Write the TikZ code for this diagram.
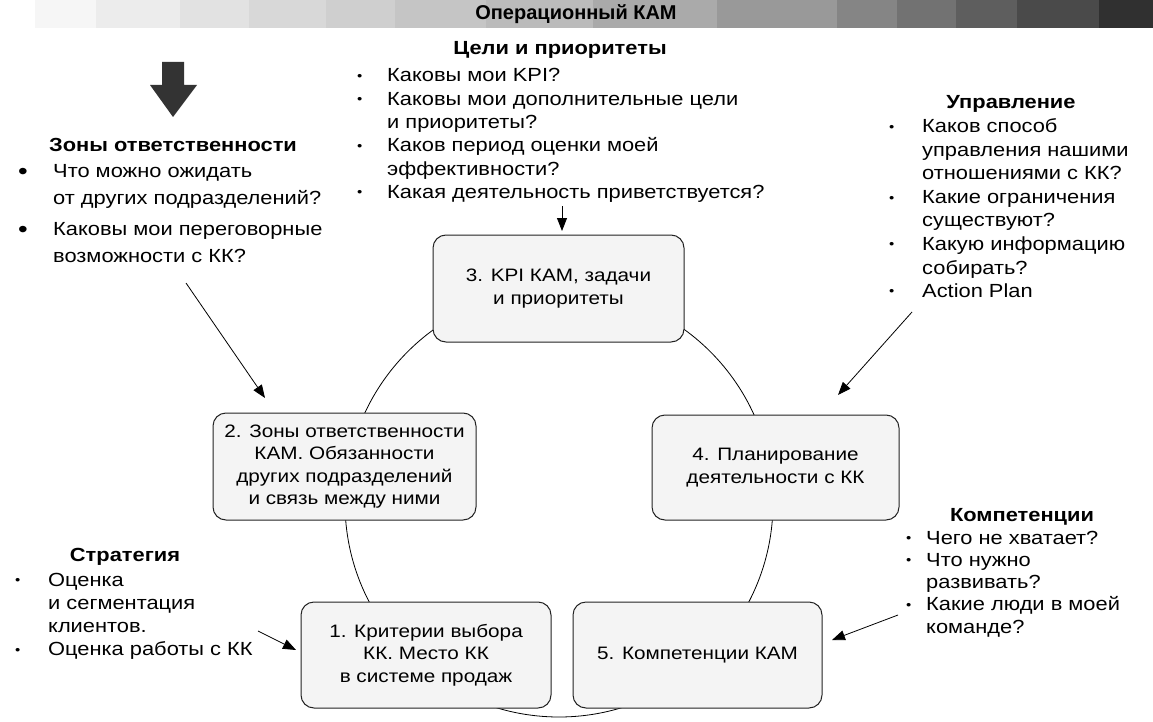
\documentclass[tikz,border=0pt]{standalone}
\usepackage{fontspec}
\setmainfont{Liberation Sans}[FakeStretch=1.15]
\newfontfamily\hdrfont{Liberation Sans}
\usetikzlibrary{arrows.meta}
\definecolor{boxfill}{HTML}{F4F4F4}
\definecolor{boxline}{HTML}{222222}
\definecolor{darkarrow}{HTML}{333333}
\newcommand\smbul{\raisebox{1.5pt}{\fontsize{13}{13}\selectfont\textbullet}}
\newcommand\bgbul{\raisebox{-1.5pt}{\fontsize{24}{24}\selectfont\textbullet}}
\tikzset{
  stagebox/.style={draw=boxline, line width=1pt, fill=boxfill, rounded corners=13pt,
    inner sep=0pt, align=center, font=\fontsize{18}{22.3}\selectfont},
  qhead/.style={anchor=base, inner sep=0pt, font=\fontsize{19}{23}\selectfont\bfseries},
  qblock/.style={anchor=base west, inner sep=0pt},
  conn/.style={line width=0.8pt, -{Triangle[length=13pt,width=10pt]}},
}
\begin{document}
\begin{tikzpicture}[x=1pt,y=-1pt]
\useasboundingbox (0,0) rectangle (1153,722);
% header bar
\fill[fill={rgb,255:red,246;green,246;blue,246}] (35,0) rectangle (96,28);
\fill[fill={rgb,255:red,236;green,236;blue,236}] (96,0) rectangle (180,28);
\fill[fill={rgb,255:red,226;green,226;blue,226}] (180,0) rectangle (249,28);
\fill[fill={rgb,255:red,216;green,216;blue,216}] (249,0) rectangle (326,28);
\fill[fill={rgb,255:red,207;green,207;blue,207}] (326,0) rectangle (395,28);
\fill[fill={rgb,255:red,197;green,197;blue,197}] (395,0) rectangle (486,28);
\fill[fill={rgb,255:red,187;green,187;blue,187}] (486,0) rectangle (593,28);
\fill[fill={rgb,255:red,170;green,170;blue,170}] (593,0) rectangle (717,28);
\fill[fill={rgb,255:red,153;green,153;blue,153}] (717,0) rectangle (837,28);
\fill[fill={rgb,255:red,133;green,133;blue,133}] (837,0) rectangle (897,28);
\fill[fill={rgb,255:red,114;green,114;blue,114}] (897,0) rectangle (956,28);
\fill[fill={rgb,255:red,94;green,94;blue,94}] (956,0) rectangle (1017,28);
\fill[fill={rgb,255:red,74;green,74;blue,74}] (1017,0) rectangle (1099,28);
\fill[fill={rgb,255:red,48;green,48;blue,48}] (1099,0) rectangle (1153,28);
\node[inner sep=0pt, font=\hdrfont\fontsize{20}{20}\selectfont\bfseries] (hdr) at (576,14) {Операционный КАМ};

% big dark arrow
\fill[darkarrow] (162,62) -- (184,62) -- (184,85) -- (197,85) -- (173,117) -- (150,85) -- (162,85) -- cycle;

% cycle
\coordinate (cc) at (559,503);
\draw[line width=0.8pt] (cc) circle[radius=214pt];

% stage boxes
\node[stagebox, minimum width=251pt, minimum height=107pt] (b3) at (558.5,288.5) {3. KPI КАМ, задачи\\и приоритеты};
\node[stagebox, minimum width=263pt, minimum height=107pt] (b2) at (344.5,466.5) {2. Зоны ответственности\\КАМ. Обязанности\\других подразделений\\и связь между ними};
\node[stagebox, minimum width=247pt, minimum height=105pt] (b4) at (775.5,467.5) {4. Планирование\\деятельности с КК};
\node[stagebox, minimum width=250pt, minimum height=106pt] (b1) at (426,655) {1. Критерии выбора\\КК. Место КК\\в системе продаж};
\node[stagebox, minimum width=249pt, minimum height=106pt] (b5) at (697.5,655) {5. Компетенции КАМ};

% question blocks
\node[qhead] (hC) at (560,55) {Цели и приоритеты};
\node[qblock, font=\fontsize{19}{23.3}\selectfont] (tC) at (357,82) {%
\begin{tabular}[t]{@{}p{30pt}@{}l@{}}
\smbul & Каковы мои KPI?\\
\smbul & Каковы мои дополнительные цели\\
 & и приоритеты?\\
\smbul & Каков период оценки моей\\
 & эффективности?\\
\smbul & Какая деятельность приветствуется?
\end{tabular}};

\node[qhead] (hZ) at (173,152) {Зоны ответственности};
\node[qblock, font=\fontsize{19}{27}\selectfont] (tZ) at (18,178) {%
\begin{tabular}[t]{@{}p{35pt}@{}l@{}}
\bgbul & Что можно ожидать\\
 & от других подразделений?\\[4pt]
\bgbul & Каковы мои переговорные\\
 & возможности с КК?
\end{tabular}};

\node[qhead] (hU) at (1011,109) {Управление};
\node[qblock, font=\fontsize{19}{23.5}\selectfont] (tU) at (889,133) {%
\begin{tabular}[t]{@{}p{33pt}@{}l@{}}
\smbul & Каков способ\\
 & управления нашими\\
 & отношениями с КК?\\
\smbul & Какие ограничения\\
 & существуют?\\
\smbul & Какую информацию\\
 & собирать?\\
\smbul & Action Plan
\end{tabular}};

\node[qhead] (hK) at (1022,521) {Компетенции};
\node[qblock, font=\fontsize{19}{22.3}\selectfont] (tK) at (906,544) {%
\begin{tabular}[t]{@{}p{20pt}@{}l@{}}
\smbul & Чего не хватает?\\
\smbul & Что нужно\\
 & развивать?\\
\smbul & Какие люди в моей\\
 & команде?
\end{tabular}};

\node[qhead] (hS) at (125,561) {Стратегия};
\node[qblock, font=\fontsize{19}{23.3}\selectfont] (tS) at (15,586) {%
\begin{tabular}[t]{@{}p{33pt}@{}l@{}}
\smbul & Оценка\\
 & и сегментация\\
 & клиентов.\\
\smbul & Оценка работы с КК
\end{tabular}};

% connectors
\coordinate (aZs) at (186,283);  \coordinate (aZe) at (265,398);
\coordinate (aCs) at (562,206);  \coordinate (aCe) at (562,231);
\coordinate (aUs) at (912,312);  \coordinate (aUe) at (838,395);
\coordinate (aSs) at (258,631);  \coordinate (aSe) at (296,650);
\coordinate (aKs) at (898,615);  \coordinate (aKe) at (832,640);
\draw[conn] (aZs) -- (aZe);
\draw[conn] (aCs) -- (aCe);
\draw[conn] (aUs) -- (aUe);
\draw[conn] (aSs) -- (aSe);
\draw[conn] (aKs) -- (aKe);
\end{tikzpicture}
\end{document}
